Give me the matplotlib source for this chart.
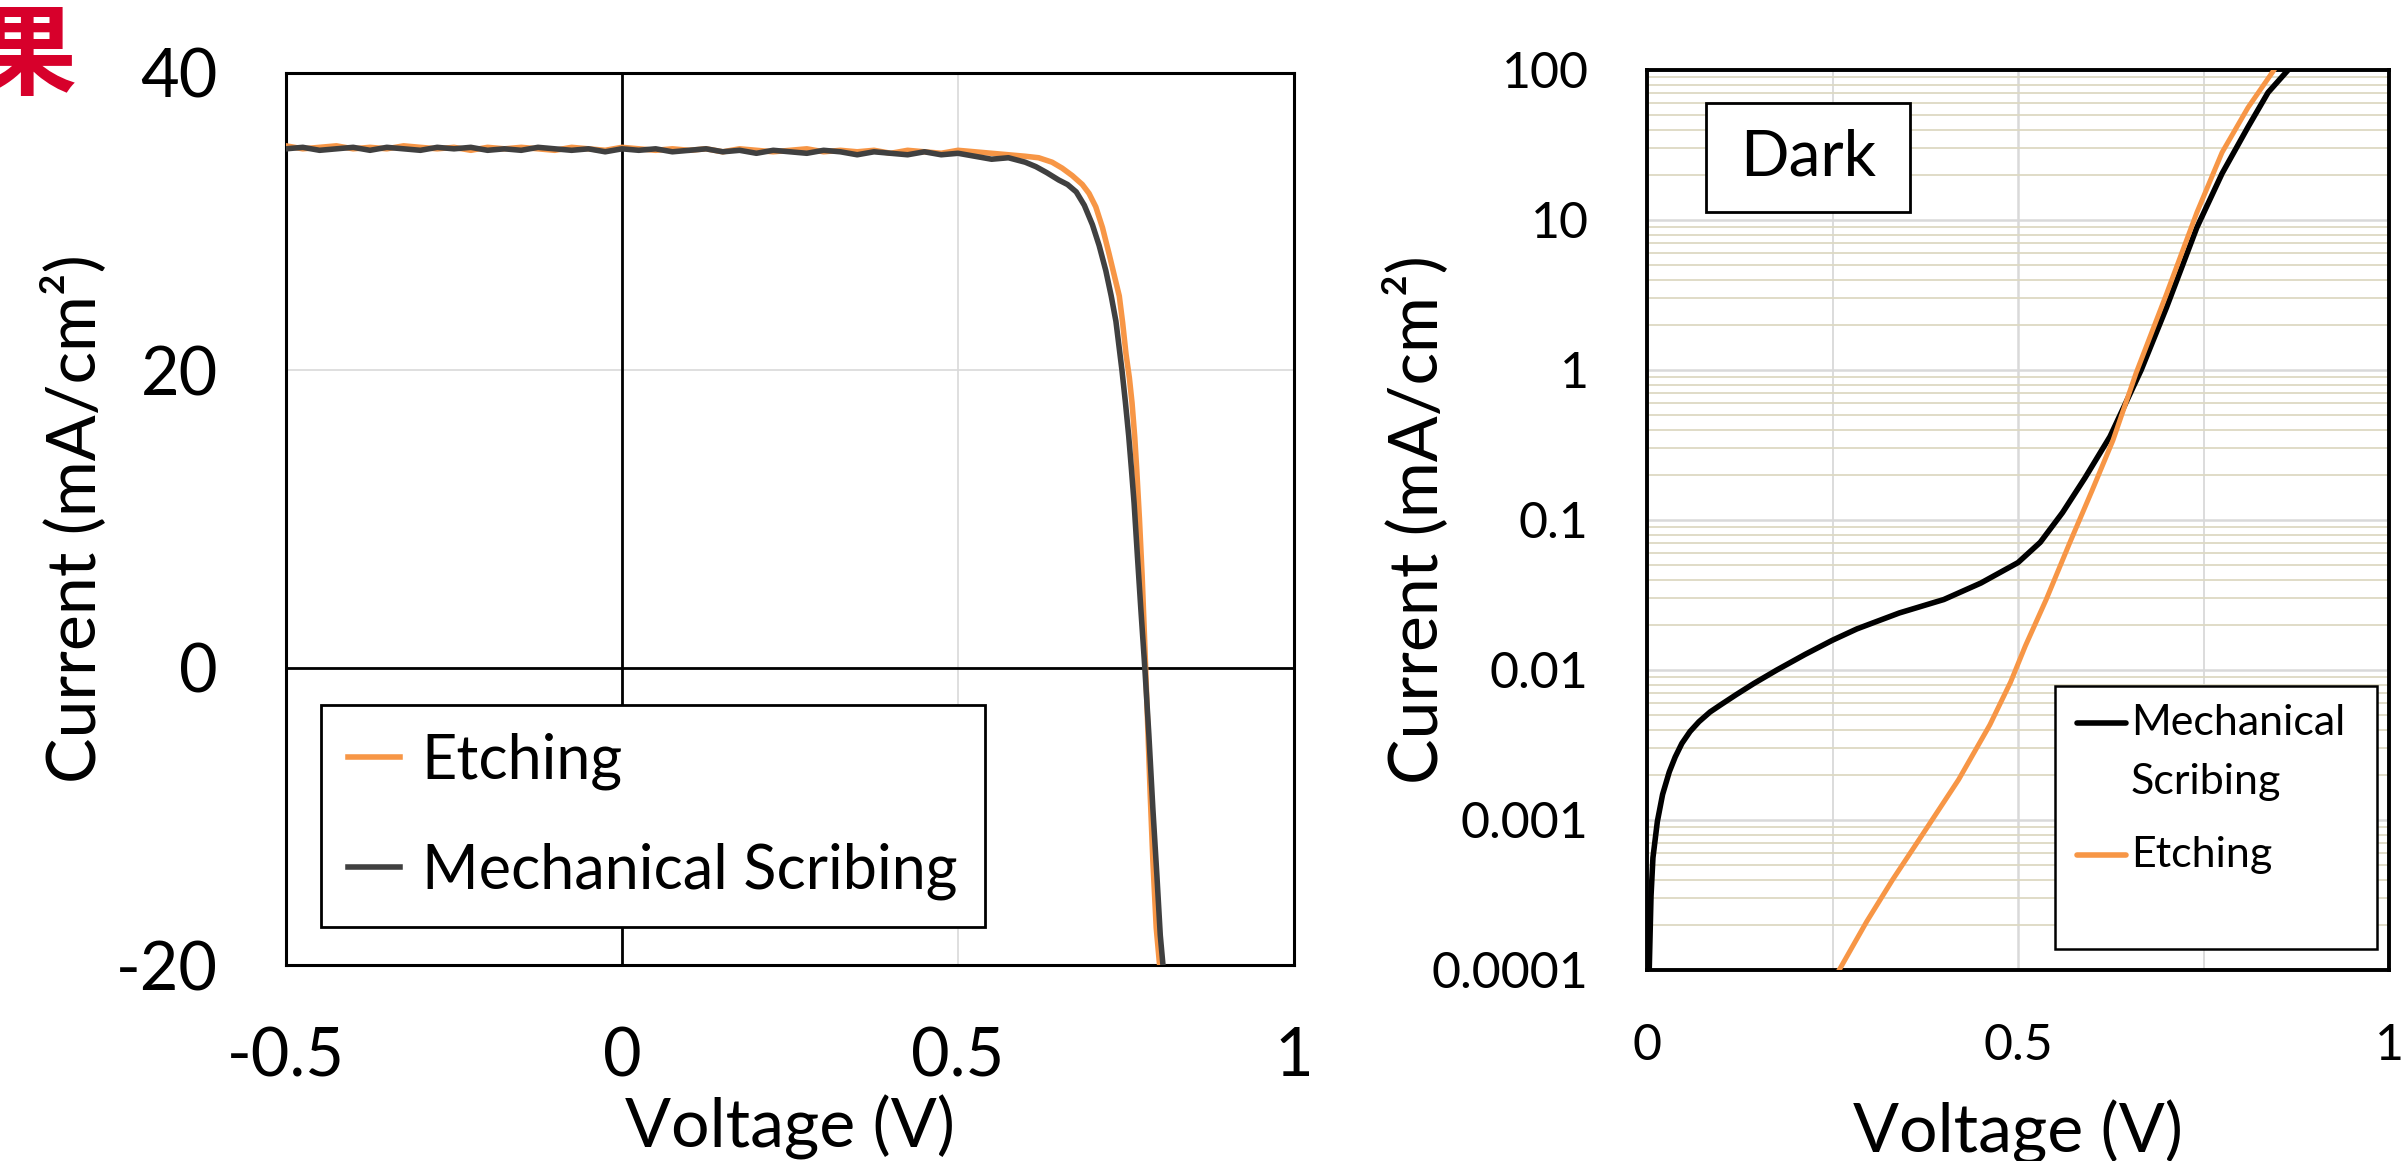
import matplotlib
matplotlib.use("Agg")
import matplotlib.pyplot as plt
from matplotlib.patches import Rectangle
from matplotlib.ticker import FixedLocator, FuncFormatter, NullFormatter

plt.rcParams['font.family'] = ['Lato', 'DejaVu Sans']

# ---- light J-V (left panel) ----
v_flat = [-0.5, -0.475, -0.45, -0.425, -0.4, -0.375, -0.35, -0.325, -0.3, -0.275,
          -0.25, -0.225, -0.2, -0.175, -0.15, -0.125, -0.1, -0.075, -0.05, -0.025,
          0.0, 0.025, 0.05, 0.075, 0.1, 0.125, 0.15, 0.175, 0.2, 0.225,
          0.25, 0.275, 0.3, 0.325, 0.35, 0.375, 0.4, 0.425, 0.45, 0.475,
          0.5, 0.525, 0.55, 0.575, 0.6]
etch_j_flat = [35.1, 34.9, 35.0, 35.1, 34.9, 35.0, 34.9, 35.1, 35.0, 34.9,
               35.0, 34.8, 35.0, 34.9, 35.0, 34.9, 34.8, 35.0, 34.9, 34.8,
               35.0, 34.9, 34.8, 34.9, 34.8, 34.9, 34.7, 34.9, 34.8, 34.7,
               34.8, 34.9, 34.7, 34.8, 34.7, 34.8, 34.6, 34.8, 34.7, 34.6,
               34.8, 34.7, 34.6, 34.5, 34.4]
mech_j_flat = [34.9, 35.0, 34.8, 34.9, 35.0, 34.8, 35.0, 34.9, 34.8, 35.0,
               34.9, 35.0, 34.8, 34.9, 34.8, 35.0, 34.9, 34.8, 34.9, 34.7,
               34.9, 34.8, 34.9, 34.7, 34.8, 34.9, 34.7, 34.8, 34.6, 34.8,
               34.7, 34.6, 34.8, 34.7, 34.5, 34.7, 34.6, 34.5, 34.7, 34.5,
               34.6, 34.4, 34.2, 34.3, 34.0]

etch_v_knee = [0.62, 0.64, 0.655, 0.67, 0.685, 0.695, 0.705, 0.715, 0.725, 0.733,
               0.74, 0.745, 0.75, 0.755, 0.759, 0.763, 0.766, 0.77, 0.774, 0.778,
               0.782, 0.786, 0.79, 0.795, 0.8]
etch_j_knee = [34.3, 34.0, 33.6, 33.1, 32.5, 31.9, 31.0, 29.6, 27.8, 26.3,
               25.0, 23.2, 21.1, 19.5, 17.8, 15.5, 13.3, 10.0, 6.2, 1.5,
               -3.5, -8.5, -13.0, -17.5, -20.0]
mech_v_knee = [0.616, 0.632, 0.65, 0.663, 0.676, 0.688, 0.7, 0.71, 0.72, 0.728,
               0.735, 0.744, 0.749, 0.754, 0.758, 0.762, 0.767, 0.772, 0.778, 0.784,
               0.79, 0.796, 0.801, 0.805]
mech_j_knee = [33.7, 33.3, 32.8, 32.5, 32.0, 31.1, 29.8, 28.4, 26.7, 25.0,
               23.3, 20.0, 17.9, 15.6, 13.4, 11.1, 7.5, 4.0, 0.0, -4.5,
               -9.5, -14.0, -18.0, -20.0]

# ---- dark J-V (right panel, log) ----
dark_v_mech = [0.003, 0.0054, 0.008, 0.014, 0.021, 0.03, 0.038, 0.047, 0.058, 0.07,
               0.085, 0.1, 0.12, 0.144, 0.175, 0.213, 0.25, 0.283, 0.34, 0.4,
               0.45, 0.5, 0.53, 0.56, 0.59, 0.624, 0.666, 0.7, 0.741, 0.775,
               0.81, 0.837, 0.864]
dark_j_mech = [1e-4, 3.1e-4, 5.6e-4, 9.8e-4, 1.48e-3, 2.09e-3, 2.63e-3, 3.24e-3, 3.89e-3, 4.52e-3,
               5.25e-3, 5.89e-3, 6.84e-3, 8.13e-3, 1.0e-2, 1.27e-2, 1.58e-2, 1.88e-2, 2.4e-2, 2.95e-2,
               3.8e-2, 5.2e-2, 7.1e-2, 0.112, 0.19, 0.36, 1.0, 2.6, 8.9, 20.4,
               41.7, 70.8, 100]
dark_v_etch = [0.259, 0.296, 0.331, 0.372, 0.42, 0.462, 0.49, 0.51, 0.538, 0.57,
               0.6, 0.628, 0.659, 0.7, 0.741, 0.775, 0.81, 0.845]
dark_j_etch = [1e-4, 2.1e-4, 4.0e-4, 8.1e-4, 1.86e-3, 4.3e-3, 8.3e-3, 1.45e-2, 2.95e-2, 7.1e-2,
               0.158, 0.34, 0.95, 3.2, 11.2, 28.2, 56.2, 100]

left_xticks = [-0.5, 0, 0.5, 1]
left_yticks = [-20, 0, 20, 40]
right_xticks = [0, 0.5, 1]
right_yticks = [1e-4, 1e-3, 1e-2, 1e-1, 1, 10, 100]

ORANGE = '#F79646'
DGRAY = '#404040'
GRID = '#D9D9D9'
MINOR = '#DDD9C3'

fig = plt.figure(figsize=(24.05, 11.61), dpi=100)

# ======================= left panel =========================
ax1 = fig.add_axes([286/2405, 1-965/1161, 1008/2405, 892/1161])
ax1.plot(v_flat + etch_v_knee, etch_j_flat + etch_j_knee, color=ORANGE, lw=4,
         label='Etching', zorder=3)
ax1.plot(v_flat + mech_v_knee, mech_j_flat + mech_j_knee, color=DGRAY, lw=4,
         label='Mechanical Scribing', zorder=4)
ax1.set_xlim(-0.5, 1)
ax1.set_ylim(-20, 40)
ax1.set_xticks(left_xticks)
ax1.set_xticklabels(['-0.5', '0', '0.5', '1'])
ax1.set_yticks(left_yticks)
ax1.set_yticklabels(['-20', '0', '20', '40'])
ax1.grid(True, color=GRID, lw=1.2, zorder=0)
ax1.set_axisbelow(True)
ax1.axvline(0, color='black', lw=2, zorder=2)
ax1.axhline(0, color='black', lw=2, zorder=2)
for s in ax1.spines.values():
    s.set_linewidth(2.2)
ax1.tick_params(axis='both', length=0, labelsize=48)
ax1.tick_params(axis='x', pad=44)
ax1.tick_params(axis='y', pad=49)
ax1.set_xlabel('Voltage (V)', fontsize=49)
ax1.set_ylabel('Current (mA/cm²)', fontsize=49)
ax1.xaxis.set_label_coords(0.5, -0.182)
ax1.xaxis.label.set_verticalalignment('center')
ax1.yaxis.set_label_coords(-0.21, 0.5)
ax1.yaxis.label.set_verticalalignment('center')
leg = ax1.legend(loc='lower left', bbox_to_anchor=(0.0347, 0.0426), borderaxespad=0,
                 fontsize=44, frameon=True, fancybox=False, edgecolor='black',
                 framealpha=1, handlelength=0.85, handletextpad=0.35,
                 labelspacing=0.85, borderpad=0.45)
leg.get_frame().set_linewidth(2)
leg.set_zorder(10)

# ======================= right panel ========================
ax2 = fig.add_axes([1647/2405, 1-970/1161, 742/2405, 900/1161])
ax2.plot(dark_v_mech, dark_j_mech, color='black', lw=4, zorder=3)
ax2.plot(dark_v_etch, dark_j_etch, color=ORANGE, lw=3.6, zorder=4)
ax2.set_yscale('log')
ax2.set_xlim(0, 1)
ax2.set_ylim(1e-4, 100)
ax2.set_xticks(right_xticks)
ax2.set_xticklabels(['0', '0.5', '1'])
ax2.xaxis.set_minor_locator(FixedLocator([0.25, 0.75]))
ax2.set_yticks(right_yticks)
ax2.yaxis.set_major_formatter(FuncFormatter(lambda y, p: '{:g}'.format(y)))
ax2.yaxis.set_minor_formatter(NullFormatter())
ax2.grid(True, which='minor', axis='y', color=MINOR, lw=1.3, zorder=0)
ax2.grid(True, which='minor', axis='x', color=GRID, lw=1.3, zorder=0)
ax2.grid(True, which='major', color=GRID, lw=1.8, zorder=1)
ax2.set_axisbelow(True)
for s in ax2.spines.values():
    s.set_linewidth(2.8)
ax2.tick_params(axis='both', which='both', length=0, labelsize=36)
ax2.tick_params(axis='x', pad=38)
ax2.tick_params(axis='y', pad=42)
ax2.set_xlabel('Voltage (V)', fontsize=49)
ax2.set_ylabel('Current (mA/cm²)', fontsize=49)
ax2.xaxis.set_label_coords(0.5, -0.18)
ax2.xaxis.label.set_verticalalignment('center')
ax2.yaxis.set_label_coords(-0.311, 0.5)
ax2.yaxis.label.set_verticalalignment('center')

# "Dark" box
ax2.add_patch(Rectangle((0.0795, 0.842), 0.275, 0.121, transform=ax2.transAxes,
                        facecolor='white', edgecolor='black', lw=2, zorder=6))
ax2.text(0.217, 0.903, 'Dark', transform=ax2.transAxes, fontsize=46,
         ha='center', va='center', zorder=7)

# legend box (drawn by hand so the two-line label keeps its handle on the first line)
ax2.add_patch(Rectangle((0.550, 0.0233), 0.434, 0.2923, transform=ax2.transAxes,
                        facecolor='white', edgecolor='black', lw=1.8, zorder=6))
ax2.plot([0.580, 0.646], [0.274, 0.274], transform=ax2.transAxes, color='black',
         lw=4, solid_capstyle='round', zorder=7)
ax2.plot([0.580, 0.646], [0.128, 0.128], transform=ax2.transAxes, color=ORANGE,
         lw=4, solid_capstyle='round', zorder=7)
ax2.text(0.652, 0.274, 'Mechanical', transform=ax2.transAxes, fontsize=31,
         ha='left', va='center', zorder=7)
ax2.text(0.652, 0.209, 'Scribing', transform=ax2.transAxes, fontsize=31,
         ha='left', va='center', zorder=7)
ax2.text(0.652, 0.128, 'Etching', transform=ax2.transAxes, fontsize=31,
         ha='left', va='center', zorder=7)

# cut-off heading character at the top-left corner
fig.text(77/2405, 1-58/1161, '果', fontsize=72, color='#D7002B', fontweight='bold',
         family=['Noto Sans CJK JP', 'DejaVu Sans'], ha='right', va='center')

fig.savefig('out.png', dpi=100)
